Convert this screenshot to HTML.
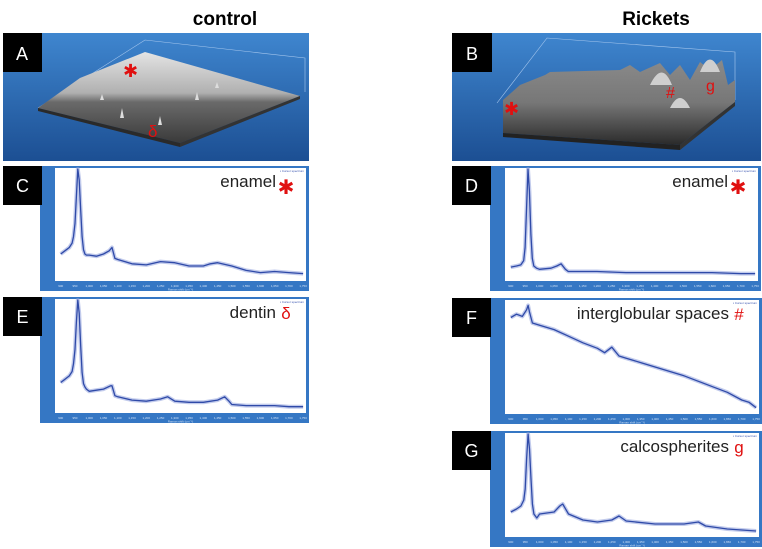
<!DOCTYPE html>
<html><head><meta charset="utf-8"><style>
body{margin:0;background:#fff;}
svg{display:block;font-family:"Liberation Sans","DejaVu Sans",sans-serif;}
</style></head><body>
<svg id="fig" width="762" height="549" viewBox="0 0 762 549">
<defs>
<linearGradient id="bg" x1="0" y1="0" x2="0" y2="1"><stop offset="0" stop-color="#3f86cf"/><stop offset="1" stop-color="#1c4f93"/></linearGradient>
<linearGradient id="surfA" x1="0" y1="0" x2="0" y2="1"><stop offset="0" stop-color="#e4e4e4"/><stop offset="0.45" stop-color="#b0b0b0"/><stop offset="0.55" stop-color="#6a6a6a"/><stop offset="1" stop-color="#3a3a3a"/></linearGradient>
<linearGradient id="surfB" x1="0" y1="0" x2="0" y2="1"><stop offset="0" stop-color="#8a8a8a"/><stop offset="0.5" stop-color="#777"/><stop offset="1" stop-color="#2a2a2a"/></linearGradient>
</defs>
<text x="225" y="25" font-size="19" font-weight="bold" text-anchor="middle">control</text>
<text x="656" y="25" font-size="19" font-weight="bold" text-anchor="middle">Rickets</text>

<g>
<rect x="3" y="33" width="306" height="128" fill="url(#bg)"/>
<polyline points="38,108 145,40 305,58 305,92" fill="none" stroke="#a8c8ee" stroke-width="0.6"/>
<polygon points="38,108 80,78 145,52 300,96 180,143" fill="url(#surfA)"/>
<polygon points="38,108 180,143 180,147 38,111" fill="#2a2a2a"/>
<polygon points="180,143 300,96 300,99 180,147" fill="#333"/>
<path d="M120,118 l2,-10 l2,10 M158,125 l2,-9 l2,9 M100,100 l2,-6 l2,6 M195,100 l2,-8 l2,8 M215,88 l2,-6 l2,6" fill="#ddd"/>
<text x="123" y="77" font-size="18" fill="#e01010" font-family="DejaVu Sans">✱</text>
<text x="148" y="137" font-size="17" fill="#e01010">δ</text>
<rect x="3" y="33" width="39" height="39" fill="#000"/>
<text x="22" y="60" font-size="18" fill="#fff" text-anchor="middle">A</text>
</g>

<g>
<rect x="452" y="33" width="309" height="128" fill="url(#bg)"/>
<polyline points="497,103 547,38 735,52 735,100" fill="none" stroke="#a8c8ee" stroke-width="0.6"/>
<polygon points="503,100 520,85 545,75 550,72 620,70 630,65 640,72 660,63 670,75 680,65 690,80 700,62 710,70 722,60 728,85 735,80 735,102 680,145 503,133" fill="url(#surfB)"/>
<polygon points="503,133 680,145 680,150 503,137" fill="#222"/>
<polygon points="680,145 735,102 735,106 680,150" fill="#333"/>
<path d="M650,85 q12,-25 22,0 z M670,108 q10,-20 20,0 z M700,72 q10,-25 20,0z" fill="#cfcfcf"/>
<text x="504" y="115" font-size="18" fill="#e01010" font-family="DejaVu Sans">✱</text>
<text x="666" y="98" font-size="16" fill="#e01010">#</text>
<text x="706" y="91" font-size="16" fill="#e01010">ɡ</text>
<rect x="452" y="33" width="40" height="39" fill="#000"/>
<text x="472" y="60" font-size="18" fill="#fff" text-anchor="middle">B</text>
</g>

<g id="spectra"></g>
</svg>
<script>
// Spectra data (Raman shift cm^-1 vs relative intensity 0-100)
const xsC=[900,910,920,930,940,945,950,955,960,965,970,975,980,985,990,1000,1025,1050,1070,1080,1090,1100,1150,1200,1250,1300,1350,1400,1425,1450,1500,1550,1600,1650,1700,1750];
const ysC=[22,24,26,28,32,38,50,75,100,90,62,38,26,22,21,21,20,22,25,28,18,17,13,12,15,14,11,11,13,14,11,7,5,6,5,4];
const xsD=[900,920,935,945,950,955,960,965,970,975,980,990,1000,1040,1060,1075,1090,1100,1150,1200,1300,1400,1500,1600,1700,1750];
const ysD=[10,11,12,16,28,65,100,80,40,18,11,9,8,9,11,13,8,6,6,6,5,5,5,5,4,4];
const xsE=[900,910,920,930,940,945,950,955,960,965,970,975,980,985,990,1000,1025,1050,1075,1080,1090,1100,1150,1200,1250,1275,1300,1350,1400,1450,1475,1490,1500,1550,1600,1650,1700,1750];
const ysE=[25,27,29,31,35,42,55,80,100,88,58,34,24,21,19,17,18,19,22,22,13,12,9,8,10,12,8,7,7,9,12,8,5,4,4,4,3,3];
const xsF=[900,920,940,955,960,965,975,1000,1050,1100,1150,1200,1225,1250,1275,1300,1350,1400,1450,1500,1550,1600,1650,1700,1725,1750];
const ysF=[85,88,86,92,96,90,80,78,74,68,62,57,53,58,50,48,44,40,36,32,27,22,17,10,8,3];
const xsG=[900,920,935,945,950,955,960,965,970,975,980,990,1000,1050,1070,1080,1100,1150,1200,1250,1275,1300,1400,1500,1550,1575,1650,1750];
const ysG=[22,25,28,34,45,75,100,85,55,30,20,16,20,22,28,30,20,14,12,14,18,13,10,10,12,8,5,3];
const xTicks=[900,950,1000,1050,1100,1150,1200,1250,1300,1350,1400,1450,1500,1550,1600,1650,1700,1750];

const NS="http://www.w3.org/2000/svg";
const root=document.getElementById('spectra');
function mk(tag,attrs,parent){const e=document.createElementNS(NS,tag);for(const k in attrs)e.setAttribute(k,attrs[k]);parent.appendChild(e);return e;}

function panel(id,letter,lx,fx,y,h,fw,xs,ys,label,mark,markName){
  const g=mk('g',{},root);
  
  
  mk('rect',{x:fx,y:y,width:fw,height:h,fill:'#3577c4'},g);
  const px=fx+15,py=y+2,pw=fw-18,ph=h-12;
  mk('rect',{x:px,y:py,width:pw,height:ph,fill:'#fff'},g);
  const x0=880,x1=1760;
  const sx=v=>px+(v-x0)/(x1-x0)*pw;
  const sy=v=>py+ph-3-v/100*(ph-4);
  xTicks.forEach(t=>{const tx=mk('text',{x:sx(t),y:py+ph+6,'font-size':3,fill:'#cfe0f5','text-anchor':'middle'},g);tx.textContent=t.toLocaleString();});
  const xl=mk('text',{x:px+pw/2,y:y+h-0.5,'font-size':3,fill:'#cfe0f5','text-anchor':'middle'},g);xl.textContent='Raman shift (cm⁻¹)';
  let d='';xs.forEach((v,i)=>{d+=(i?'L':'M')+sx(v).toFixed(1)+','+sy(ys[i]).toFixed(1);});
  mk('path',{d:d,fill:'none',stroke:'#8fa0dc','stroke-width':4,'stroke-opacity':0.55,'stroke-linejoin':'round'},g);
  const p=mk('path',{d:d,fill:'none',stroke:'#2f4aa8','stroke-width':1.3,'stroke-linejoin':'round'},g);
  
  
  const lg=mk('text',{x:px+pw-2,y:py+4,'font-size':3,fill:'#3a55b0','text-anchor':'end'},g);lg.textContent='▪ Cursor spectrum';
  const lb=mk('rect',{x:lx,y:y,width:39,height:39,fill:'#000'},g);
  
  
  const lt=mk('text',{x:lx+19.5,y:y+26,'font-size':18,fill:'#fff','text-anchor':'middle'},g);lt.textContent=letter;
  const tt=mk('text',{x:px+pw-30,y:y+21,'font-size':17,fill:'#222','text-anchor':'end'},g);tt.textContent=label;
  
  
  const star=mark==='*';
  const mm=mk('text',{x:px+pw-20,y:star?y+28:y+22,'font-size':star?20:17,fill:'#e01010','text-anchor':'middle','font-family':star?'DejaVu Sans':'Liberation Sans'},g);mm.textContent=star?'✱':mark;
  
  
}
panel('c','C',3,40,166,125,269,xsC,ysC,'enamel','*','enamel-marker');
panel('e','E',3,40,297,126,269,xsE,ysE,'dentin','δ','dentin-marker');
panel('d','D',452,490,166,125,271,xsD,ysD,'enamel','*','enamel-marker');
panel('f','F',452,490,298,126,272,xsF,ysF,'interglobular spaces','#','interglobular-marker');
panel('g','G',452,490,431,116,272,xsG,ysG,'calcospherites','ɡ','calcospherite-marker');
</script>
</body></html>
